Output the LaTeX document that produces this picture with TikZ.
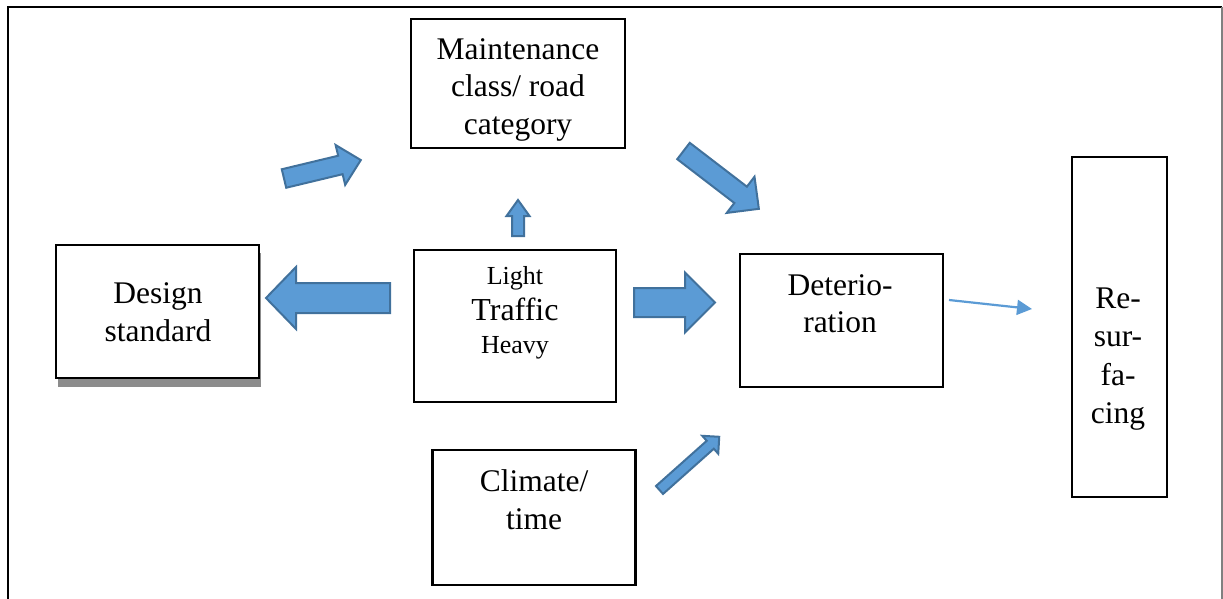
\documentclass[tikz,border=0pt]{standalone}
\usepackage{fontspec}
\setmainfont{Liberation Serif}
\usetikzlibrary{arrows.meta}
\definecolor{afill}{HTML}{5B9BD5}
\definecolor{aline}{HTML}{41719C}
\tikzset{
 box/.style={draw=black, line width=2.4pt, fill=white, inner sep=0pt},
 txt/.style={align=center, font=\fontsize{31.5}{37.5}\selectfont, inner sep=0pt},
 tallTxt/.style={align=center, font=\fontsize{31.5}{38.5}\selectfont, inner sep=0pt},
 smalltxt/.style={font=\fontsize{26}{30}\selectfont, inner sep=0pt, anchor=base},
 bigtxt/.style={font=\fontsize{32}{37}\selectfont, inner sep=0pt, anchor=base},
 barrowstyle/.style={fill=afill, draw=aline, line width=2pt, line join=miter},
 thinarrow/.style={draw=afill, line width=2.2pt, -{Triangle[length=15pt,width=15pt]}},
}
% #1 tail, #2 angle, #3 length, #4 shaft half width, #5 head half width, #6 head length
\newcommand\blockarrow[6]{%
 \draw[barrowstyle, shift={(#1)}, rotate=#2] (0,-#4) -- ({#3-#6},-#4) -- ({#3-#6},-#5) -- (#3,0) -- ({#3-#6},#5) -- ({#3-#6},#4) -- (0,#4) -- cycle;}
\begin{document}
\begin{tikzpicture}[x=1pt,y=-1pt]
\useasboundingbox (0,0) rectangle (1223,599);
% frame
\draw[line width=2pt] (8,600) -- (8,7) -- (1222,7);
\draw[gray, line width=1.2pt] (1222,7) -- (1222,600);
% boxes
\node[box, minimum width=214pt, minimum height=129pt] (maint) at (518,83.5) {};
\fill[black!45] (58,253) rectangle (261,387);
\node[box, minimum width=203pt, minimum height=133pt] (design) at (157.5,311.5) {};
\node[box, minimum width=202pt, minimum height=152pt] (traffic) at (515,326) {};
\node[box, minimum width=203pt, minimum height=133pt] (deter) at (841.5,320.5) {};
\node[box, minimum width=95pt, minimum height=340pt] (resurf) at (1119.5,327) {};
\node[box, minimum width=203pt, minimum height=135pt] (climate) at (534,517.5) {};
% texts
\node[txt] (maintT) at (518,89.5) {Maintenance\\class/ road\\category};
\node[txt] (designT) at (158,312) {Design\\standard};
\node[smalltxt] (lightT) at (515,284) {Light};
\node[bigtxt] (trafficT) at (515,320) {Traffic};
\node[smalltxt] (heavyT) at (515,353) {Heavy};
\node[txt] (deterT) at (840,303.5) {Deterio-\\ration};
\node[tallTxt] (resurfT) at (1118,359) {Re-\\sur-\\fa-\\cing};
\node[txt] (climateT) at (534,499.5) {Climate/\\time};
% block arrows
\blockarrow{284,178.5}{13.5}{79}{9.5}{20.5}{21}
\blockarrow{390,298}{180}{124}{15}{31}{30}
\blockarrow{518,236}{90}{36}{6}{11.5}{16}
\blockarrow{634,302.5}{0}{81}{14.5}{30}{30}
\blockarrow{683.5,151}{-37.5}{95}{10.3}{22.8}{23}
\blockarrow{659.5,490}{41.7}{80}{5.3}{12}{12}
% thin arrow
\coordinate (g1) at (949,300);
\coordinate (g2) at (1032,309);
\draw[thinarrow] (g1) -- (g2);
\end{tikzpicture}
\end{document}
